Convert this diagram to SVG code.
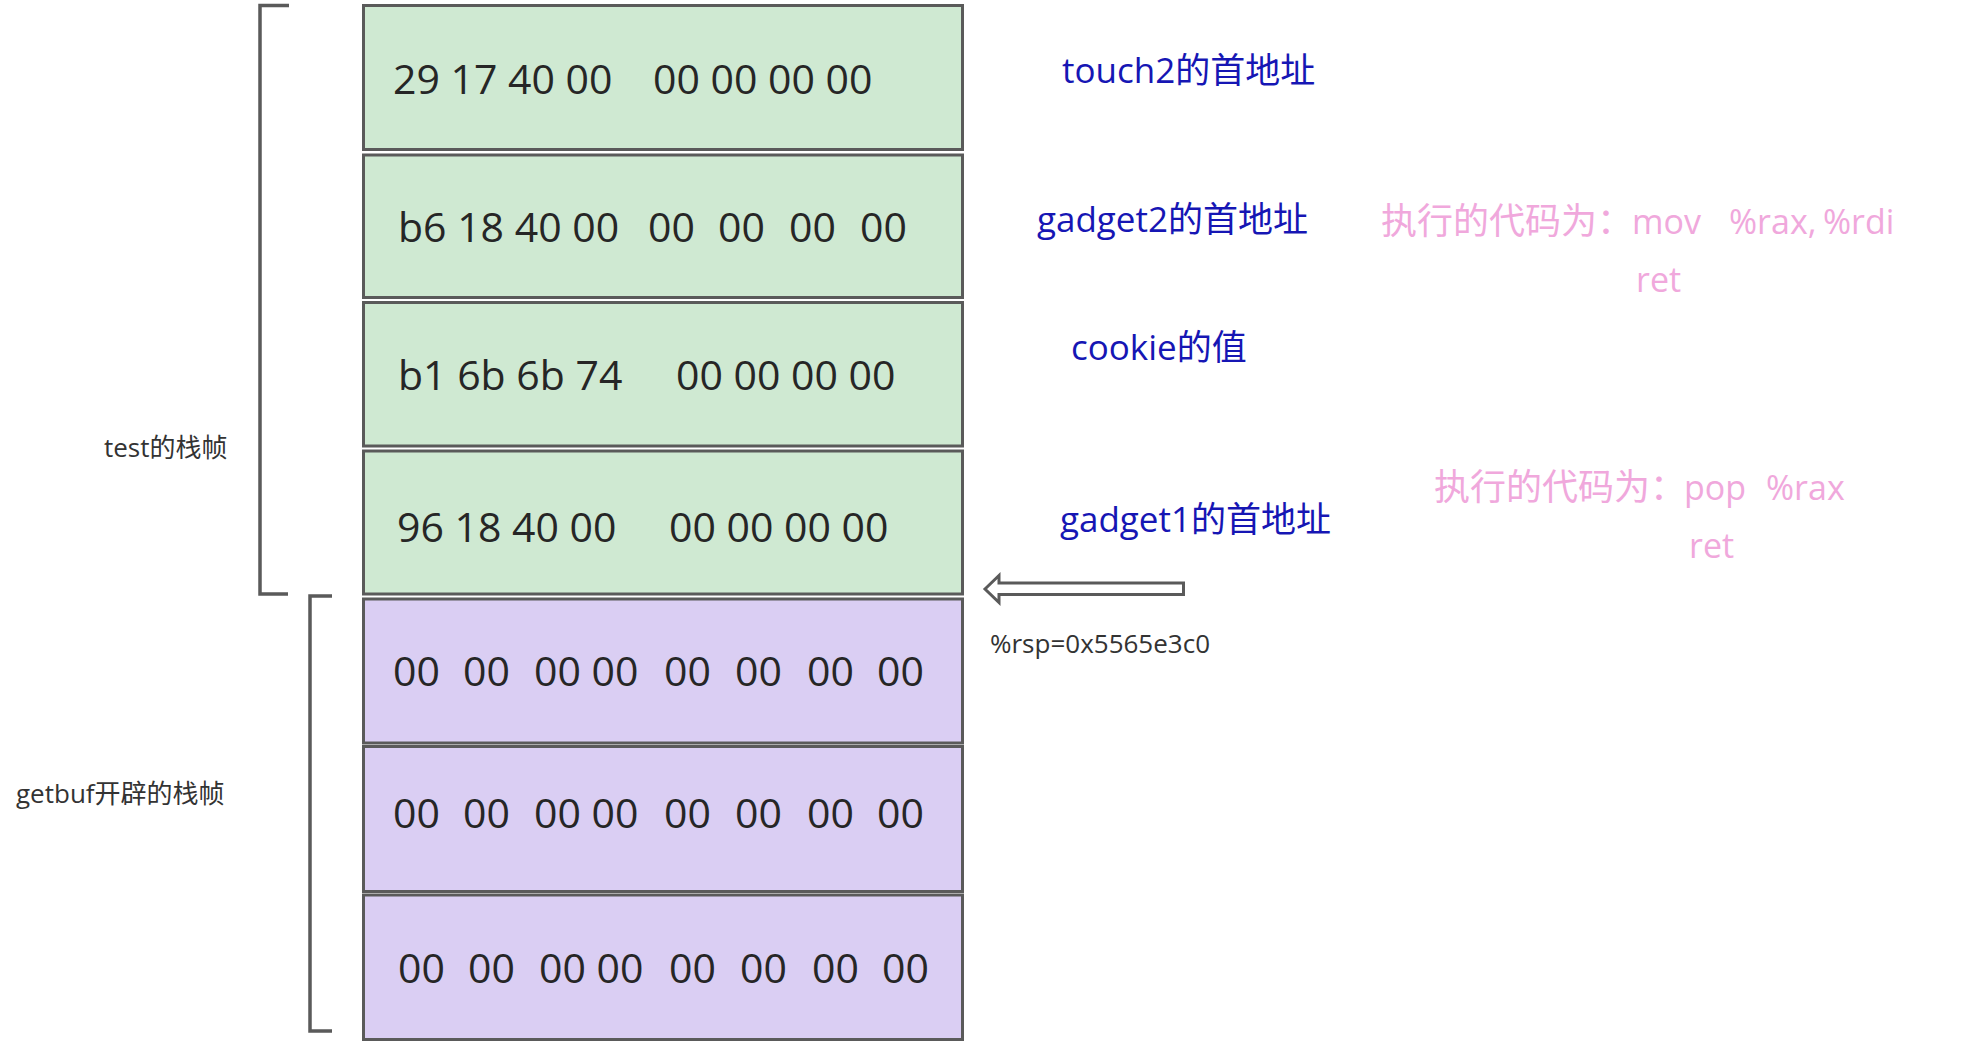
<svg xmlns="http://www.w3.org/2000/svg" width="1977" height="1045" viewBox="0 0 1977 1045">
<style>
.box{stroke:#5a5a5a;stroke-width:3}
.g{fill:#cfe9d2}
.p{fill:#dacef3}
.hex{font-family:"Open Sans","Noto Sans CJK SC",sans-serif;font-size:41px;fill:#262626}
.lbl{font-family:"Open Sans","Noto Sans CJK SC",sans-serif;font-size:26px;fill:#333333}
.blue{font-family:"Open Sans","Noto Sans CJK SC",sans-serif;font-size:35px;fill:#1616b4}
.pink{font-family:"Open Sans","Noto Sans CJK SC",sans-serif;font-size:36px;fill:#f0a8dc}
.lat{font-size:34px}
.brk{fill:none;stroke:#5a5a5a;stroke-width:3.5}
</style>
<rect width="1977" height="1045" fill="#ffffff"/>

<g id="box1"><rect class="box g" x="363.5" y="5.5" width="599" height="144"/>
<text class="hex" y="94"><tspan x="393">29 17 40 00</tspan><tspan x="653">00 00 00 00</tspan></text></g>
<g id="box2"><rect class="box g" x="363.5" y="155" width="599" height="142.5"/>
<text class="hex" y="242"><tspan x="398">b6 18 40 00</tspan><tspan x="648">00</tspan><tspan x="718">00</tspan><tspan x="789">00</tspan><tspan x="860">00</tspan></text></g>
<g id="box3"><rect class="box g" x="363.5" y="302.5" width="599" height="143.5"/>
<text class="hex" y="390"><tspan x="398">b1 6b 6b 74</tspan><tspan x="676">00 00 00 00</tspan></text></g>
<g id="box4"><rect class="box g" x="363.5" y="451" width="599" height="143"/>
<text class="hex" y="542"><tspan x="397">96 18 40 00</tspan><tspan x="669">00 00 00 00</tspan></text></g>
<g id="box5"><rect class="box p" x="363.5" y="599" width="599" height="144"/>
<text class="hex" y="686"><tspan x="393">00</tspan><tspan x="463">00</tspan><tspan x="534">00 00</tspan><tspan x="664">00</tspan><tspan x="735">00</tspan><tspan x="807">00</tspan><tspan x="877">00</tspan></text></g>
<g id="box6"><rect class="box p" x="363.5" y="746.5" width="599" height="145"/>
<text class="hex" y="828"><tspan x="393">00</tspan><tspan x="463">00</tspan><tspan x="534">00 00</tspan><tspan x="664">00</tspan><tspan x="735">00</tspan><tspan x="807">00</tspan><tspan x="877">00</tspan></text></g>
<g id="box7"><rect class="box p" x="363.5" y="895" width="599" height="144.5"/>
<text class="hex" y="983"><tspan x="398">00</tspan><tspan x="468">00</tspan><tspan x="539">00 00</tspan><tspan x="669">00</tspan><tspan x="740">00</tspan><tspan x="812">00</tspan><tspan x="882">00</tspan></text></g>

<g id="test-frame"><path class="brk" d="M289,5.5 H260 V594 H288"/>
<text class="lbl" x="104" y="457">test的栈帧</text></g>
<g id="getbuf-frame"><path class="brk" d="M332,596 H310 V1031 H332"/>
<text class="lbl" x="16" y="803">getbuf开辟的栈帧</text></g>

<g id="labels">
<text class="blue" x="1062" y="83">touch2的首地址</text>
<text class="blue" x="1037" y="232">gadget2的首地址</text>
<text class="blue" x="1071" y="360">cookie的值</text>
<text class="blue" x="1060" y="532">gadget1的首地址</text>
<text class="pink" y="234"><tspan x="1381">执行的代码为：</tspan><tspan class="lat" x="1632">mov</tspan><tspan class="lat" x="1729">%rax,</tspan><tspan class="lat" x="1823">%rdi</tspan></text>
<text class="pink lat" x="1636" y="292">ret</text>
<text class="pink" y="500"><tspan x="1434">执行的代码为：</tspan><tspan class="lat" x="1684">pop</tspan><tspan class="lat" x="1766">%rax</tspan></text>
<text class="pink lat" x="1689" y="558">ret</text>
</g>

<g id="connectors">
<path id="rsp-arrow" d="M985,589 L999,575.5 V583 H1183.5 V594.5 H999 V602.5 Z" fill="#ffffff" stroke="#5a5a5a" stroke-width="3" stroke-linejoin="miter"/>
<text class="lbl" x="990" y="653">%rsp=0x5565e3c0</text>
</g>
</svg>
